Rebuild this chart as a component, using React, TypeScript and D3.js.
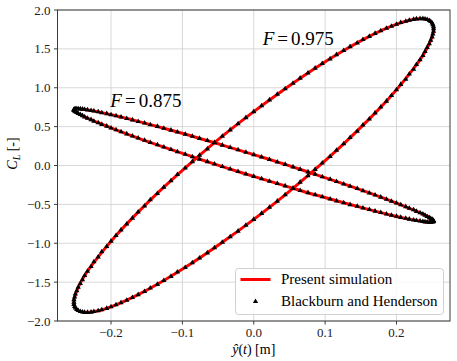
import React from "react";
import * as d3 from "d3";

const W = 457;
const H = 361;
const M = { top: 10, right: 7, bottom: 40, left: 57.5 };
const SERIF = "Liberation Serif";

// Blackburn and Henderson: one cycle, phase steps of 2.5 deg
const bhYhat = [
  0, 0.011, 0.022, 0.033, 0.044, 0.055, 0.065, 0.076, 0.086, 0.096, 0.107, 0.116,
  0.126, 0.135, 0.145, 0.153, 0.162, 0.17, 0.178, 0.186, 0.193, 0.2, 0.206, 0.213,
  0.218, 0.224, 0.228, 0.233, 0.237, 0.24, 0.243, 0.246, 0.248, 0.25, 0.251, 0.252,
  0.252, 0.252, 0.251, 0.25, 0.248, 0.246, 0.243, 0.24, 0.237, 0.233, 0.228, 0.224,
  0.218, 0.213, 0.206, 0.2, 0.193, 0.186, 0.178, 0.17, 0.162, 0.153, 0.145, 0.135,
  0.126, 0.116, 0.107, 0.096, 0.086, 0.076, 0.065, 0.055, 0.044, 0.033, 0.022, 0.011,
  0, -0.011, -0.022, -0.033, -0.044, -0.055, -0.065, -0.076, -0.086, -0.096, -0.107, -0.116,
  -0.126, -0.135, -0.145, -0.153, -0.162, -0.17, -0.178, -0.186, -0.193, -0.2, -0.206, -0.213,
  -0.218, -0.224, -0.228, -0.233, -0.237, -0.24, -0.243, -0.246, -0.248, -0.25, -0.251, -0.252,
  -0.252, -0.252, -0.251, -0.25, -0.248, -0.246, -0.243, -0.24, -0.237, -0.233, -0.228, -0.224,
  -0.218, -0.213, -0.206, -0.2, -0.193, -0.186, -0.178, -0.17, -0.162, -0.153, -0.145, -0.135,
  -0.126, -0.116, -0.107, -0.096, -0.086, -0.076, -0.065, -0.055, -0.044, -0.033, -0.022, -0.011,
];
const bhClF0975 = [
  0.693, 0.769, 0.844, 0.916, 0.988, 1.057, 1.124, 1.19, 1.252, 1.313, 1.371, 1.426,
  1.479, 1.529, 1.576, 1.62, 1.661, 1.699, 1.733, 1.764, 1.792, 1.817, 1.838, 1.855,
  1.869, 1.879, 1.886, 1.889, 1.889, 1.885, 1.877, 1.866, 1.852, 1.833, 1.812, 1.786,
  1.758, 1.726, 1.691, 1.653, 1.611, 1.566, 1.519, 1.468, 1.415, 1.359, 1.3, 1.239,
  1.176, 1.11, 1.043, 0.973, 0.901, 0.828, 0.753, 0.677, 0.599, 0.521, 0.441, 0.36,
  0.279, 0.197, 0.115, 0.033, -0.05, -0.132, -0.214, -0.296, -0.377, -0.458, -0.537, -0.616,
  -0.693, -0.769, -0.844, -0.916, -0.988, -1.057, -1.124, -1.19, -1.252, -1.313, -1.371, -1.426,
  -1.479, -1.529, -1.576, -1.62, -1.661, -1.699, -1.733, -1.764, -1.792, -1.817, -1.838, -1.855,
  -1.869, -1.879, -1.886, -1.889, -1.889, -1.885, -1.877, -1.866, -1.852, -1.833, -1.812, -1.786,
  -1.758, -1.726, -1.691, -1.653, -1.611, -1.566, -1.519, -1.468, -1.415, -1.359, -1.3, -1.239,
  -1.176, -1.11, -1.043, -0.973, -0.901, -0.828, -0.753, -0.677, -0.599, -0.521, -0.441, -0.36,
  -0.279, -0.197, -0.115, -0.033, 0.05, 0.132, 0.214, 0.296, 0.377, 0.458, 0.537, 0.616,
];
const bhClF0875 = [
  0.14, 0.109, 0.077, 0.045, 0.014, -0.018, -0.05, -0.082, -0.113, -0.145, -0.176, -0.206,
  -0.237, -0.267, -0.296, -0.325, -0.353, -0.38, -0.407, -0.433, -0.459, -0.483, -0.506, -0.529,
  -0.55, -0.57, -0.59, -0.608, -0.625, -0.641, -0.655, -0.669, -0.681, -0.692, -0.701, -0.709,
  -0.716, -0.721, -0.726, -0.728, -0.729, -0.729, -0.728, -0.725, -0.721, -0.715, -0.708, -0.7,
  -0.69, -0.679, -0.667, -0.653, -0.639, -0.623, -0.605, -0.587, -0.567, -0.547, -0.525, -0.503,
  -0.479, -0.455, -0.43, -0.403, -0.377, -0.349, -0.321, -0.292, -0.262, -0.232, -0.202, -0.171,
  -0.14, -0.109, -0.077, -0.045, -0.014, 0.018, 0.05, 0.082, 0.113, 0.145, 0.176, 0.206,
  0.237, 0.267, 0.296, 0.325, 0.353, 0.38, 0.407, 0.433, 0.459, 0.483, 0.506, 0.529,
  0.55, 0.57, 0.59, 0.608, 0.625, 0.641, 0.655, 0.669, 0.681, 0.692, 0.701, 0.709,
  0.716, 0.721, 0.726, 0.728, 0.729, 0.729, 0.728, 0.725, 0.721, 0.715, 0.708, 0.7,
  0.69, 0.679, 0.667, 0.653, 0.639, 0.623, 0.605, 0.587, 0.567, 0.547, 0.525, 0.503,
  0.479, 0.455, 0.43, 0.403, 0.377, 0.349, 0.321, 0.292, 0.262, 0.232, 0.202, 0.171,
];

// present simulation: one cycle, phase steps of 10 deg
const simYhat = [
  0, 0.044, 0.086, 0.126, 0.162, 0.193, 0.218, 0.237, 0.248, 0.252, 0.248, 0.237,
  0.218, 0.193, 0.162, 0.126, 0.086, 0.044, 0, -0.044, -0.086, -0.126, -0.162, -0.193,
  -0.218, -0.237, -0.248, -0.252, -0.248, -0.237, -0.218, -0.193, -0.162, -0.126, -0.086, -0.044,
];
const simClF0975 = [
  0.693, 0.988, 1.252, 1.479, 1.661, 1.792, 1.869, 1.889, 1.852, 1.758, 1.611, 1.415,
  1.176, 0.901, 0.599, 0.279, -0.05, -0.377, -0.693, -0.988, -1.252, -1.479, -1.661, -1.792,
  -1.869, -1.889, -1.852, -1.758, -1.611, -1.415, -1.176, -0.901, -0.599, -0.279, 0.05, 0.377,
];
const simClF0875 = [
  0.14, 0.014, -0.113, -0.237, -0.353, -0.459, -0.55, -0.625, -0.681, -0.716, -0.729, -0.721,
  -0.69, -0.639, -0.567, -0.479, -0.377, -0.262, -0.14, -0.014, 0.113, 0.237, 0.353, 0.459,
  0.55, 0.625, 0.681, 0.716, 0.729, 0.721, 0.69, 0.639, 0.567, 0.479, 0.377, 0.262,
];

const xTicks = [-0.2, -0.1, 0.0, 0.1, 0.2];
const yTicks = [-2.0, -1.5, -1.0, -0.5, 0.0, 0.5, 1.0, 1.5, 2.0];
const caseLabels = [
  { f: "0.875", x: -0.201, y: 0.752 },
  { f: "0.975", x: 0.0125, y: 1.55 },
];

const fmt = (v: number) => d3.format(".1f")(v).replace("-", "\u2212");

export default function App() {
  const x = d3.scaleLinear().domain([-0.275, 0.275]).range([M.left, W - M.right]);
  const y = d3.scaleLinear().domain([-2, 2]).range([H - M.bottom, M.top]);

  const pts = (xs: number[], ys: number[]) => xs.map((v, i) => [v, ys[i]] as [number, number]);
  const loop = d3
    .line<[number, number]>()
    .x((d) => x(d[0]))
    .y((d) => y(d[1]))
    .curve(d3.curveCatmullRomClosed.alpha(0.5));
  const tri = d3.symbol(d3.symbolTriangle, 12)() as string;

  const sims = [pts(simYhat, simClF0975), pts(simYhat, simClF0875)];
  const bh = [pts(bhYhat, bhClF0975), pts(bhYhat, bhClF0875)];

  const [x0, x1] = x.range();
  const [y0, y1] = y.range();

  return (
    <svg width={W} height={H} style={{ display: "block" }}>
      <style>{`body{margin:0}`}</style>
      <defs>
        <clipPath id="plot-area">
          <rect x={x0} y={y1} width={x1 - x0} height={y0 - y1} />
        </clipPath>
      </defs>

      {/* grid */}
      <g stroke="#d4d4d4" strokeWidth={0.9}>
        {xTicks.map((t) => (
          <line key={"gx" + t} x1={x(t)} x2={x(t)} y1={y1} y2={y0} />
        ))}
        {yTicks.map((t) => (
          <line key={"gy" + t} x1={x0} x2={x1} y1={y(t)} y2={y(t)} />
        ))}
      </g>

      <g clipPath="url(#plot-area)">
        {sims.map((d, i) => (
          <path key={"s" + i} d={loop(d) as string} fill="none" stroke="#ff0000" strokeWidth={3} />
        ))}
        {bh.map((d, i) => (
          <g key={"b" + i}>
            {d.map((p, j) => (
              <path key={j} d={tri} transform={`translate(${x(p[0])},${y(p[1])})`} fill="#000" />
            ))}
          </g>
        ))}
      </g>

      {caseLabels.map((c) => (
        <text key={c.f} x={x(c.x)} y={y(c.y)} fontSize={19} fill="#000" style={{ fontFamily: SERIF }}>
          <tspan fontStyle="italic">F</tspan>
          <tspan dx={3}>=</tspan>
          <tspan dx={3}>{c.f}</tspan>
        </text>
      ))}

      {/* frame */}
      <rect x={x0} y={y1} width={x1 - x0} height={y0 - y1} fill="none" stroke="#3a3a3a" strokeWidth={1} />

      {/* axes */}
      {xTicks.map((t) => (
        <g key={"tx" + t}>
          <line x1={x(t)} x2={x(t)} y1={y0} y2={y0 + 3.5} stroke="#3a3a3a" />
          <text x={x(t)} y={y0 + 15.5} textAnchor="middle" fontSize={13} fill="#222" style={{ fontFamily: SERIF }}>
            {fmt(t)}
          </text>
        </g>
      ))}
      {yTicks.map((t) => (
        <g key={"ty" + t}>
          <line x1={x0 - 3.5} x2={x0} y1={y(t)} y2={y(t)} stroke="#3a3a3a" />
          <text x={x0 - 7} y={y(t) + 4.5} textAnchor="end" fontSize={13} fill="#222" style={{ fontFamily: SERIF }}>
            {fmt(t)}
          </text>
        </g>
      ))}

      <text x={x(0)} y={H - 7} textAnchor="middle" fontSize={14} style={{ fontFamily: SERIF }}>
        <tspan fontStyle="italic">ŷ</tspan>(<tspan fontStyle="italic">t</tspan>) [m]
      </text>
      <text
        transform={`translate(17,${(y0 + y1) / 2 - 12}) rotate(-90)`}
        textAnchor="middle"
        fontSize={14}
        style={{ fontFamily: SERIF }}
      >
        <tspan fontStyle="italic">C</tspan>
        <tspan fontStyle="italic" fontSize={10} dy={3}>L</tspan>
        <tspan dy={-3}> [-]</tspan>
      </text>

      {/* legend */}
      <g transform="translate(235.5,268.5)">
        <rect width={208} height={46} rx={3} fill="#fff" fillOpacity={0.85} stroke="#d0d0d0" />
        <line x1={5} x2={35} y1={11} y2={11} stroke="#ff0000" strokeWidth={3} />
        <text x={45.5} y={15.5} fontSize={15} style={{ fontFamily: SERIF }}>
          Present simulation
        </text>
        <path d={tri} transform="translate(20,33)" fill="#000" />
        <text x={45.5} y={37} fontSize={15} style={{ fontFamily: SERIF }}>
          Blackburn and Henderson
        </text>
      </g>
    </svg>
  );
}
